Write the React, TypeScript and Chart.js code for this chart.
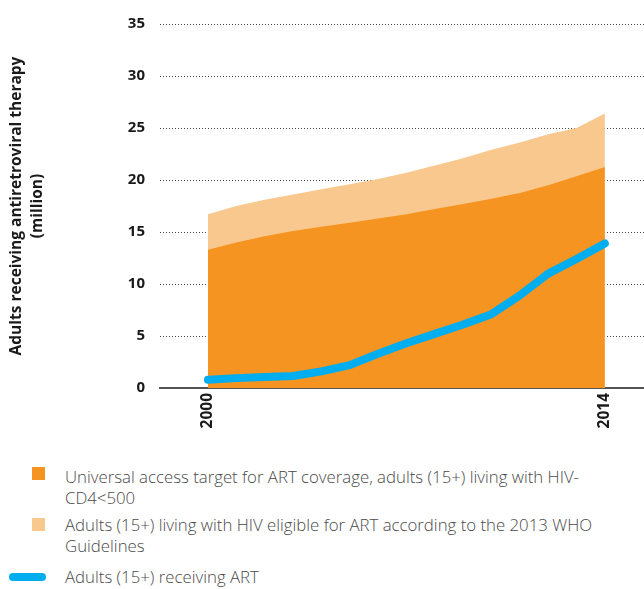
import React, { useEffect, useRef } from "react";
import { Chart, registerables } from "chart.js";

Chart.register(...registerables);

const years = [2000, 2001, 2002, 2003, 2004, 2005, 2006, 2007, 2008, 2009, 2010, 2011, 2012, 2013, 2014];
const receivingART = [0.8, 0.95, 1.05, 1.15, 1.6, 2.2, 3.3, 4.3, 5.2, 6.1, 7.1, 8.9, 11.0, 12.4, 13.9];
const universalTarget = [13.3, 14.0, 14.6, 15.1, 15.5, 15.9, 16.3, 16.7, 17.2, 17.7, 18.2, 18.75, 19.5, 20.35, 21.25];
const eligible2013 = [16.7, 17.5, 18.1, 18.6, 19.1, 19.6, 20.1, 20.7, 21.4, 22.1, 22.9, 23.6, 24.4, 25.0, 26.4];
const xTickYears = [2000, 2014];
const yTitle = ["Adults receiving antiretroviral therapy", "(million)"];
const legendLabels = [
  ["Universal access target for ART coverage, adults (15+) living with HIV-", "CD4<500"],
  ["Adults (15+) living with HIV eligible for ART according to the 2013 WHO", "Guidelines"],
  ["Adults (15+) receiving ART"],
];

const DARK = "#F59420";
const LIGHT = "#F9C88F";
const BLUE = "#00AEEF";
const FONT = "'Open Sans', sans-serif";

const toPoints = (vals: number[]) => vals.map((v, i) => ({ x: years[i], y: v }));

export default function App() {
  const ref = useRef<HTMLCanvasElement>(null);
  useEffect(() => {
    if (!ref.current) return;
    const chart = new Chart(ref.current, {
      type: "line",
      data: {
        datasets: [
          {
            label: legendLabels[2].join(" "),
            data: toPoints(receivingART),
            borderColor: BLUE,
            borderWidth: 8,
            borderCapStyle: "round",
            borderJoinStyle: "round",
            pointRadius: 0,
            fill: false,
            tension: 0,
          },
          {
            label: legendLabels[0].join(" "),
            data: toPoints(universalTarget),
            borderWidth: 0,
            borderColor: DARK,
            backgroundColor: DARK,
            pointRadius: 0,
            fill: "origin",
            tension: 0,
          },
          {
            label: legendLabels[1].join(" "),
            data: toPoints(eligible2013),
            borderWidth: 0,
            borderColor: LIGHT,
            backgroundColor: LIGHT,
            pointRadius: 0,
            fill: "origin",
            tension: 0,
          },
        ],
      },
      options: {
        responsive: false,
        animation: false,
        layout: { padding: { top: 17, left: 0, right: 0, bottom: 0 } },
        plugins: { legend: { display: false }, tooltip: { enabled: false } },
        scales: {
          x: {
            type: "linear",
            min: 1998.31,
            max: 2015.38,
            afterBuildTicks: (scale: any) => {
              scale.ticks = xTickYears.map((v) => ({ value: v }));
            },
            afterFit: (scale: any) => {
              scale.height = 62;
            },
            grid: { display: false, drawTicks: false },
            border: { display: true, color: "#555", width: 2 },
            ticks: {
              autoSkip: false,
              minRotation: 90,
              maxRotation: 90,
              padding: 5,
              color: "#1a1a1a",
              font: { family: FONT, size: 15.5, weight: "bold" },
              callback: (v: any) => String(v),
            },
          },
          y: {
            min: 0,
            max: 35,
            afterFit: (scale: any) => {
              scale.width = 160;
            },
            grid: {
              drawTicks: false,
              color: (ctx: any) => (ctx.tick && ctx.tick.value === 0 ? "rgba(0,0,0,0)" : "#444"),
              lineWidth: 1,
            },
            border: { display: false, dash: [1, 2] },
            ticks: {
              stepSize: 5,
              padding: 15,
              color: "#1a1a1a",
              font: { family: FONT, size: 15, weight: "bold" },
            },
            title: {
              display: true,
              text: yTitle,
              color: "#1a1a1a",
              padding: { top: 7, bottom: 0 },
              font: { family: FONT, size: 15.5, weight: "bold", lineHeight: 1.3 },
            },
          },
        },
      },
    } as any);
    return () => chart.destroy();
  }, []);

  const textStyle: React.CSSProperties = {
    position: "absolute",
    left: 65,
    fontFamily: FONT,
    fontSize: 16.8,
    fontWeight: 300,
    lineHeight: "21px",
    color: "#4a4a4a",
    whiteSpace: "nowrap",
  };

  return (
    <div style={{ position: "absolute", left: 0, top: 0, width: 644, height: 589, background: "#fff" }}>
      <canvas ref={ref} width={644} height={450} style={{ position: "absolute", left: 0, top: 0 }} />
      <div style={{ position: "absolute", left: 32, top: 467, width: 13, height: 13, background: DARK }} />
      <div style={{ ...textStyle, top: 466 }}>
        {legendLabels[0].map((l, i) => (
          <div key={i}>{l}</div>
        ))}
      </div>
      <div style={{ position: "absolute", left: 32, top: 518, width: 13, height: 13, background: LIGHT }} />
      <div style={{ ...textStyle, top: 513.5 }}>
        {legendLabels[1].map((l, i) => (
          <div key={i}>{l}</div>
        ))}
      </div>
      <div style={{ position: "absolute", left: 9, top: 572.5, width: 37, height: 8.5, borderRadius: 5, background: BLUE }} />
      <div style={{ ...textStyle, top: 566 }}>
        {legendLabels[2].map((l, i) => (
          <div key={i}>{l}</div>
        ))}
      </div>
    </div>
  );
}
